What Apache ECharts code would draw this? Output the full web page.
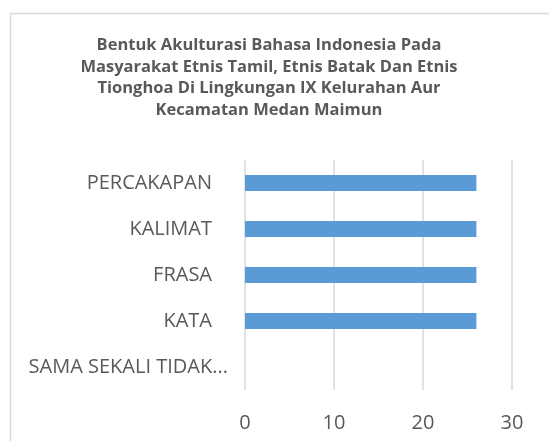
<!DOCTYPE html>
<html><head><meta charset="utf-8">
<script src="https://cdn.jsdelivr.net/npm/echarts@6/dist/echarts.min.js"></script>
<style>html,body{margin:0;padding:0;background:#fff}#c{width:549px;height:441px}</style>
</head><body><div id="c"></div>
<script>
var categories = ["SAMA SEKALI TIDAK...", "KATA", "FRASA", "KALIMAT", "PERCAKAPAN"];
var values = [0, 26, 26, 26, 26];
var xTicks = [0, 10, 20, 30];
var titleText = "Bentuk Akulturasi Bahasa Indonesia Pada\nMasyarakat Etnis Tamil, Etnis Batak Dan Etnis\nTionghoa Di Lingkungan IX Kelurahan Aur\nKecamatan Medan Maimun";
var FONT = "Open Sans";
var chart = echarts.init(document.getElementById('c'), null, {renderer: 'canvas'});
chart.setOption({
  animation: false,
  graphic: [{type: 'rect', shape: {x: 10.5, y: 13.5, width: 560, height: 460}, style: {fill: 'none', stroke: '#d9d9d9', lineWidth: 1.5}, silent: true}],
  title: {
    text: titleText, left: 264, textAlign: 'center', top: 30,
    textStyle: {fontFamily: FONT, fontSize: 16.5, fontWeight: 'bold', color: '#595959', lineHeight: 21.5, align: 'center'}
  },
  grid: {left: 245, right: 37, top: 160, bottom: 51, containLabel: false},
  xAxis: {
    type: 'value', min: 0, max: 30, interval: 10,
    axisLine: {show: false}, axisTick: {show: false},
    splitLine: {show: true, lineStyle: {color: '#d9d9d9', width: 1.5}},
    axisLabel: {fontFamily: FONT, fontSize: 20, color: '#595959', margin: 23,
      formatter: function (v) { return xTicks.indexOf(v) >= 0 ? String(v) : ''; }}
  },
  yAxis: {
    type: 'category', data: categories,
    axisLine: {show: false}, axisTick: {show: false},
    axisLabel: {fontFamily: FONT, fontSize: 20, color: '#595959', margin: 17,
      formatter: function (v) { return v.indexOf('...') >= 0 ? '{t|' + v + '}' : '{n|' + v + '}'; },
      rich: {
        t: {fontFamily: FONT, fontSize: 20, color: '#595959'},
        n: {fontFamily: FONT, fontSize: 20, color: '#595959', padding: [0, 16, 0, 0]}
      }
    }
  },
  series: [{
    type: 'bar', data: values, barWidth: 16,
    itemStyle: {color: '#5b9bd5'}
  }]
});
</script></body></html>
